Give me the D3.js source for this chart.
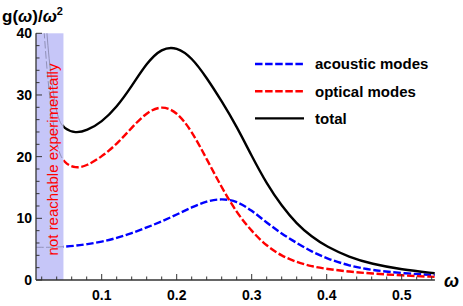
<!DOCTYPE html>
<html>
<head>
<meta charset="utf-8">
<script src="https://d3js.org/d3.v7.min.js"></script>
<style>
  body { margin: 0; background: #fff; }
  svg { display: block; }
  text { font-family: "Liberation Sans", Arial, sans-serif; }
</style>
</head>
<body>
<svg id="chart" width="463" height="306"></svg>
<script>
// data
const omega    = [0.0125, 0.02, 0.025, 0.03, 0.04, 0.05, 0.065, 0.08, 0.1, 0.12, 0.14, 0.16, 0.18, 0.2,
                  0.22, 0.24, 0.26, 0.28, 0.30, 0.32, 0.34, 0.36, 0.38, 0.40, 0.43, 0.46, 0.50, 0.544];
const acoustic = [5.3, 5.3, 5.3, 5.3, 5.35, 5.4, 5.55, 5.8, 6.2, 6.8, 7.6, 8.5, 9.5, 10.6,
                  11.8, 12.8, 13.2, 12.8, 11.3, 9.3, 7.5, 6.0, 4.6, 3.5, 2.3, 1.6, 1.1, 0.8];
const optical  = [60, 46, 37, 30, 21.3, 18.9, 18.1, 18.5, 20.0, 22.0, 24.7, 27.2, 28.3, 27.3,
                  24.2, 19.6, 15.0, 10.9, 7.9, 5.5, 3.9, 2.9, 2.2, 1.8, 1.35, 1.05, 0.75, 0.5];
const total    = [70, 55, 43, 35, 26.2, 24.5, 23.8, 24.2, 25.6, 28.0, 31.4, 35.2, 37.6, 37.8,
                  36.1, 32.8, 29.0, 24.9, 20.1, 15.6, 12.0, 9.1, 7.0, 5.4, 3.7, 2.6, 1.7, 1.1];
const seriesNames  = ["acoustic modes", "optical modes", "total"];
const seriesColors = ["#0000ff", "#ff0000", "#000000"];
const seriesDashes = ["7.5,2.6", "7.5,2.6", null];
const xTicks = [0.1, 0.2, 0.3, 0.4, 0.5];
const yTicks = [0, 10, 20, 30, 40];
const omegaMin = 0.0124, omegaMax = 0.5443, omegaCut = 0.049;

const svg = d3.select("#chart");
const x = d3.scaleLinear().domain([0, 0.55]).range([26.7, 439.2]);
const y = d3.scaleLinear().domain([0, 40]).range([280, 33.3]);

const series = [acoustic, optical, total].map((vals, i) => ({
    name: seriesNames[i], color: seriesColors[i], dash: seriesDashes[i],
    points: omega.map((w, j) => [w, vals[j]])
}));

const defs = svg.append("defs");
defs.append("clipPath").attr("id", "clip-main").append("rect")
    .attr("x", x(omegaCut)).attr("y", y(40))
    .attr("width", x(omegaMax) - x(omegaCut) + 2).attr("height", y(0) - y(40));
defs.append("clipPath").attr("id", "clip-shade").append("rect")
    .attr("x", x(omegaMin)).attr("y", y(40))
    .attr("width", x(omegaCut) - x(omegaMin)).attr("height", y(0) - y(40));

// region that cannot be measured
svg.append("rect")
    .attr("x", x(omegaMin)).attr("y", y(40))
    .attr("width", x(omegaCut) - x(omegaMin)).attr("height", y(0) - y(40))
    .attr("fill", "#c6c6f8");

const line = d3.line().x(d => x(d[0])).y(d => y(d[1])).curve(d3.curveBasis);

// faint parts inside the shaded band
svg.append("g").attr("clip-path", "url(#clip-shade)")
    .selectAll("path").data(series).join("path")
    .attr("d", d => line(d.points))
    .attr("fill", "none")
    .attr("stroke", "#8a8ab0")
    .attr("stroke-width", 0.9)
    .attr("stroke-dasharray", d => d.dash);

svg.append("g").attr("clip-path", "url(#clip-main)")
    .selectAll("path").data(series).join("path")
    .attr("d", d => line(d.points))
    .attr("fill", "none")
    .attr("stroke", d => d.color)
    .attr("stroke-width", 2.4)
    .attr("stroke-dasharray", d => d.dash);

svg.append("text")
    .attr("transform", "translate(57.5,159.5) rotate(-90)")
    .attr("text-anchor", "middle")
    .attr("fill", "#ff0000")
    .style("font-size", "15px")
    .text("not reachable experimentally");

// axes
const axisColor = "#333";
const xMinor = d3.range(0.02, 0.5401, 0.02).filter(v => Math.abs(v * 10 - Math.round(v * 10)) > 1e-6);
const yMinor = d3.range(2, 40, 2).filter(v => v % 10 !== 0);

const gx = svg.append("g").attr("transform", `translate(0,${y(0)})`);
gx.append("line").attr("x1", x(omegaMin)).attr("x2", x(omegaMax))
    .attr("stroke", axisColor).attr("stroke-width", 1.3);
gx.selectAll(".maj").data(xTicks).join("line").attr("class", "maj")
    .attr("x1", d => x(d)).attr("x2", d => x(d)).attr("y1", 0).attr("y2", -6)
    .attr("stroke", axisColor).attr("stroke-width", 1);
gx.selectAll(".min").data(xMinor).join("line").attr("class", "min")
    .attr("x1", d => x(d)).attr("x2", d => x(d)).attr("y1", 0).attr("y2", -3.5)
    .attr("stroke", axisColor).attr("stroke-width", 1);
gx.selectAll("text").data(xTicks).join("text")
    .attr("x", d => x(d)).attr("y", 20)
    .attr("text-anchor", "middle")
    .style("font-size", "14px").style("font-weight", "bold")
    .text(d => d3.format(".1f")(d));

const gy = svg.append("g").attr("transform", `translate(${x(omegaMin)},0)`);
gy.append("line").attr("y1", y(0)).attr("y2", y(40))
    .attr("stroke", axisColor).attr("stroke-width", 1.3);
gy.selectAll(".maj").data(yTicks).join("line").attr("class", "maj")
    .attr("y1", d => y(d)).attr("y2", d => y(d)).attr("x1", 0).attr("x2", 6)
    .attr("stroke", axisColor).attr("stroke-width", 1);
gy.selectAll(".min").data(yMinor).join("line").attr("class", "min")
    .attr("y1", d => y(d)).attr("y2", d => y(d)).attr("x1", 0).attr("x2", 3.5)
    .attr("stroke", axisColor).attr("stroke-width", 1);
gy.selectAll("text").data(yTicks).join("text")
    .attr("x", -4).attr("y", d => y(d)).attr("dy", "0.36em")
    .attr("text-anchor", "end")
    .style("font-size", "14px").style("font-weight", "bold")
    .text(d => d);

// axis titles
const yl = svg.append("text").attr("x", 2).attr("y", 22)
    .style("font-size", "17px").style("font-weight", "bold");
yl.append("tspan").text("g(");
yl.append("tspan").style("font-style", "italic").text("ω");
yl.append("tspan").text(")/");
yl.append("tspan").style("font-style", "italic").text("ω");
yl.append("tspan").attr("dy", -7).style("font-size", "11px").text("2");

svg.append("text").attr("x", 444).attr("y", 287)
    .style("font-size", "18px").style("font-weight", "bold").style("font-style", "italic")
    .text("ω");

// legend
const legend = svg.append("g").selectAll("g").data(series).join("g")
    .attr("transform", (d, i) => `translate(255,${64 + i * 27.2})`);
legend.append("line").attr("x1", 0).attr("x2", 49)
    .attr("stroke", d => d.color).attr("stroke-width", 2.4)
    .attr("stroke-dasharray", d => d.dash);
legend.append("text").attr("x", 60).attr("dy", "0.36em")
    .style("font-size", "15px").style("font-weight", "bold")
    .text(d => d.name);
</script>
</body>
</html>
